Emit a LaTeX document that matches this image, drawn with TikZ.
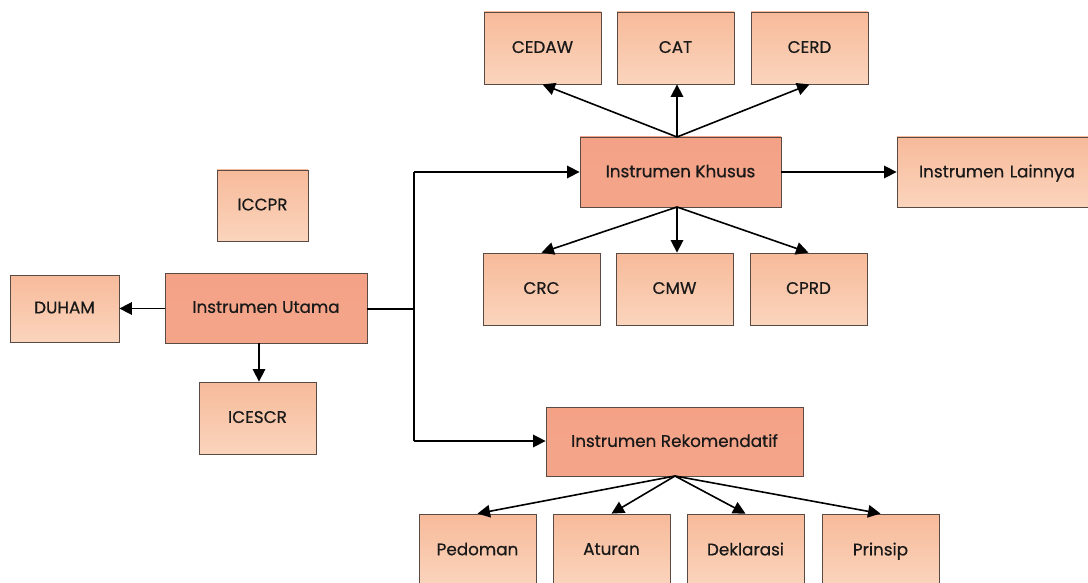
\documentclass[tikz,border=0pt]{standalone}
\usepackage{fontspec}
\setmainfont{Poppins}[FakeBold=0.6]
\usetikzlibrary{arrows.meta}
\definecolor{mainfill}{HTML}{F4A489}
\definecolor{mainfillB}{HTML}{F08A6C}
\definecolor{subfill}{HTML}{FAD0B5}
\definecolor{subfillB}{HTML}{F7BA9A}
\definecolor{boxline}{HTML}{5A4A44}
\tikzset{
  base/.style={draw=boxline, line width=0.8pt, inner sep=0pt, font=\fontsize{16.8}{20}\selectfont, text=black!90, text depth=2pt},
  mainbox/.style={base, bottom color=mainfill, top color=mainfill!90!mainfillB, middle color=mainfill},
  subbox/.style={base, bottom color=subfill!90!white, top color=subfillB},
  conn/.style={line width=1.6pt, -{Triangle[length=12.5pt,width=12.5pt]}},
  plain/.style={line width=1.6pt},
}
\begin{document}
\begin{tikzpicture}[x=1pt,y=-1pt]
\useasboundingbox (0,0) rectangle (1088,583);
\clip (0,0) rectangle (1088,583);
% sub boxes
\node[subbox, minimum width=117pt, minimum height=72pt] (cedaw) at (542.5,48) {CEDAW};
\node[subbox, minimum width=117pt, minimum height=72pt] (cat) at (675.5,48) {CAT};
\node[subbox, minimum width=117pt, minimum height=72pt] (cerd) at (809.5,48) {CERD};
\node[mainbox, minimum width=201pt, minimum height=70pt] (khusus) at (680.5,172) {Instrumen Khusus};
\node[subbox, minimum width=193pt, minimum height=70pt, text width=193pt, align=left] (lain) at (993.5,172) {\hspace*{22pt}Instrumen Lainnya};
\node[subbox, minimum width=91pt, minimum height=71pt] (iccpr) at (262.5,205.5) {ICCPR};
\node[subbox, minimum width=109pt, minimum height=67pt] (duham) at (64.5,308.5) {DUHAM};
\node[mainbox, minimum width=202pt, minimum height=70pt] (utama) at (266,308) {Instrumen Utama};
\node[subbox, minimum width=117pt, minimum height=72pt] (icescr) at (257.5,418) {ICESCR};
\node[subbox, minimum width=117pt, minimum height=72pt] (crc) at (541.5,289) {CRC};
\node[subbox, minimum width=117pt, minimum height=72pt] (cmw) at (674.5,289) {CMW};
\node[subbox, minimum width=117pt, minimum height=72pt] (cprd) at (808.5,289) {CPRD};
\node[mainbox, minimum width=257pt, minimum height=69pt] (rekom) at (674.5,441.5) {Instrumen Rekomendatif};
\node[subbox, minimum width=117pt, minimum height=72pt] (pedoman) at (477.5,550) {Pedoman};
\node[subbox, minimum width=117pt, minimum height=72pt] (aturan) at (611.5,550) {Aturan};
\node[subbox, minimum width=117pt, minimum height=72pt] (deklarasi) at (745.5,550) {Deklarasi};
\node[subbox, minimum width=117pt, minimum height=72pt] (prinsip) at (880.5,550) {Prinsip};
% connectors
\coordinate (j) at (414,309);
\coordinate (jt) at (414,172);
\coordinate (jb) at (414,441);
\coordinate (kt) at (677,137);
\coordinate (kb) at (677,207);
\coordinate (rb) at (675,476);
\draw[plain] (utama.east |- j) -- (j);
\draw[plain] (jt) -- (jb);
\draw[conn] (jt) -- (khusus.west |- jt);
\draw[conn] (jb) -- (rekom.west |- jb);
\draw[conn] (utama.west |- duham) -- (duham.east);
\draw[conn] (259,343) -- (icescr.north -| 259,0);
\draw[conn] (kt) -- (cedaw.south);
\draw[conn] (kt) -- (cat.south -| kt);
\draw[conn] (kt) -- (cerd.south);
\draw[conn] (kb) -- (crc.north);
\draw[conn] (kb) -- (cmw.north -| kb);
\draw[conn] (kb) -- (cprd.north);
\draw[conn] (khusus.east) -- (lain.west);
\draw[conn] (rb) -- (pedoman.north);
\draw[conn] (rb) -- (aturan.north);
\draw[conn] (rb) -- (deklarasi.north);
\draw[conn] (rb) -- (prinsip.north);
\end{tikzpicture}
\end{document}
